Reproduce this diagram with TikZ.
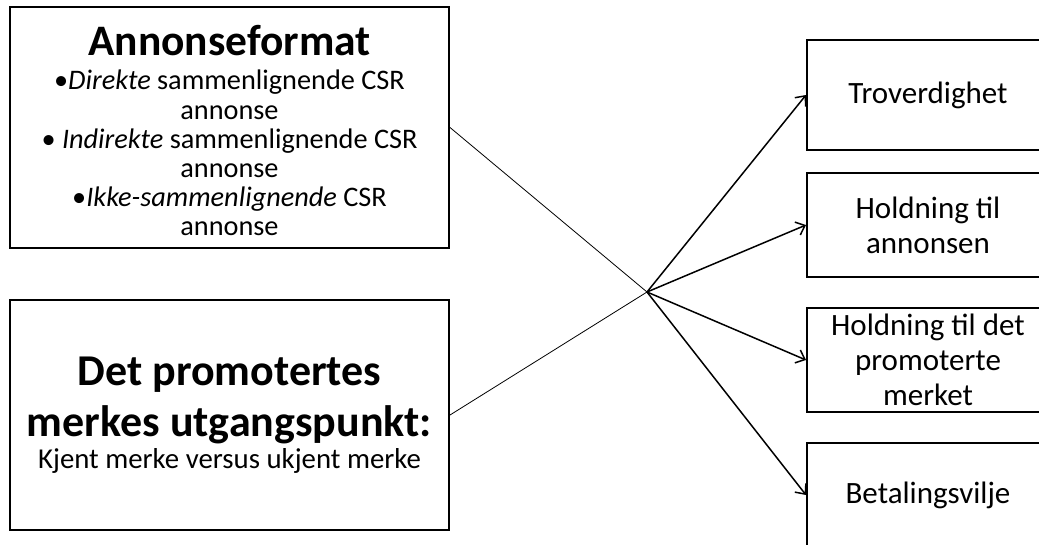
\documentclass[tikz,border=0pt]{standalone}
\usepackage{fontspec}
\setmainfont{Carlito}
\usetikzlibrary{positioning}
\usetikzlibrary{arrows.meta}

\tikzset{
  factorbox/.style={draw=black, line width=2pt, align=center, inner sep=2pt,
    minimum width=439pt},
  outcomebox/.style={draw=black, line width=2pt, align=center, inner sep=2pt,
    minimum width=242pt, minimum height=104pt,
    font=\fontsize{31}{35}\selectfont},
  effect/.style={line width=1.5pt, -{Straight Barb[length=8pt,width=14pt]}},
  link/.style={line width=0.8pt},
}

\begin{document}
\begin{tikzpicture}[x=1pt,y=-1pt]
   \useasboundingbox (0,0) rectangle (1039,544);
   \clip (0,0) rectangle (1039,544);

   % ad format
   \node[factorbox, minimum height=241pt,
      font={\fontsize{28.3}{29.2}\selectfont\lineskiplimit=-100pt}]
      (format) at (229.5,127.5)
      {\mbox{}\\[7pt]
       {\fontsize{43.5}{43}\selectfont\bfseries Annonseformat}\\[5.5pt]
       \textbullet\textit{Direkte} sammenlignende CSR\\
       annonse\\
       \textbullet{} \textit{Indirekte} sammenlignende CSR\\
       annonse\\
       \textbullet\textit{Ikke-sammenlignende} CSR\\
       annonse};

   % brand starting point
   \node[factorbox, minimum height=230pt, below=50pt of format,
      font={\fontsize{28.8}{30}\selectfont\lineskiplimit=-100pt}]
      (brand)
      {{\fontsize{44}{43}\selectfont\bfseries Det promotertes}\\[21pt]
       {\fontsize{44}{43}\selectfont\bfseries merkes utgangspunkt:}\\[2pt]
       Kjent merke versus ukjent merke};

   % dependent variables
   \node[outcomebox, minimum height=110pt] (trov) at (928,95) {Troverdighet};
   \node[outcomebox, below=21pt of trov]   (annonsen) {Holdning til\\annonsen};
   \node[outcomebox, below=29pt of annonsen] (merket)
      {Holdning til det\\promoterte\\merket};
   \node[outcomebox, below=29pt of merket] (betaling) {Betalingsvilje};

   \coordinate (hub) at (647,292);

   \draw[link] (format.east) -- (hub);
   \draw[link] (brand.east) -- (hub);

   \draw[effect] (hub) -- (trov.west);
   \draw[effect] (hub) -- (annonsen.west);
   \draw[effect] (hub) -- (merket.west);
   \draw[effect] (hub) -- (betaling.west);
\end{tikzpicture}
\end{document}
